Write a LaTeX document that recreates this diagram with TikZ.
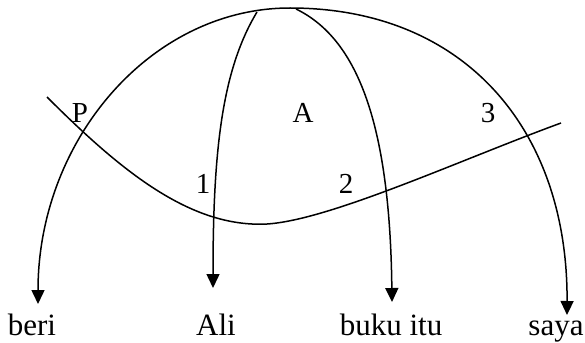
\documentclass[tikz,border=0pt]{standalone}
\usepackage{fontspec}
\setmainfont{Liberation Serif}
\usepackage{tikz}
\usetikzlibrary{arrows.meta}

\begin{document}
\begin{tikzpicture}[
  x=1pt, y=-1pt,
  garis/.style={line width=1.5pt, color=black},
  panah/.style={garis, -{Triangle[length=14pt, width=13pt]}},
  kata/.style={anchor=base, inner sep=0pt, font=\fontsize{31}{36}\selectfont},
  tanda/.style={anchor=base, inner sep=0pt, font=\fontsize{29}{34}\selectfont},
]
\useasboundingbox (0,0) rectangle (585,342);

%% Titik-titik pada busur
\coordinate (puncak) at (290, 8);
\coordinate (akar1)  at (257, 12);
\coordinate (akar2)  at (296, 9);
\coordinate (ujung0) at (38, 304);
\coordinate (ujung1) at (213, 288);
\coordinate (ujung2) at (392, 302);
\coordinate (ujung3) at (567, 315);

%% Kata-kata
\node[kata] (beri) at (32, 335)  {beri};
\node[kata] (ali)  at (216, 335) {Ali};
\node[kata] (buku) at (391, 335) {buku itu};
\node[kata] (saya) at (556, 335) {saya};

%% Label
\node[tanda] (p)    at (80, 122)  {P};
\node[tanda] (a)    at (303, 122) {A};
\node[tanda] (satu) at (203, 193) {1};
\node[tanda] (dua)  at (346, 193) {2};
\node[tanda] (tiga) at (488, 122) {3};

%% Busur besar
\draw[panah] (puncak) .. controls (151, 8) and (38, 140) .. (ujung0);
\draw[panah] (puncak) .. controls (465, 8) and (568, 130) .. (ujung3);

%% Busur dalam
\draw[panah] (akar1) .. controls (222, 70) and (213, 150) .. (ujung1);
\draw[panah] (akar2) .. controls (360, 40) and (390, 130) .. (ujung2);

%% Garis gelombang
\coordinate (g0) at (47, 97);
\coordinate (g1) at (267, 224);
\coordinate (g2) at (561, 123);
\draw[garis] (g0) .. controls (120, 170) and (190, 228) .. (g1)
             .. controls (330, 220) and (460, 160) .. (g2);

\end{tikzpicture}
\end{document}
